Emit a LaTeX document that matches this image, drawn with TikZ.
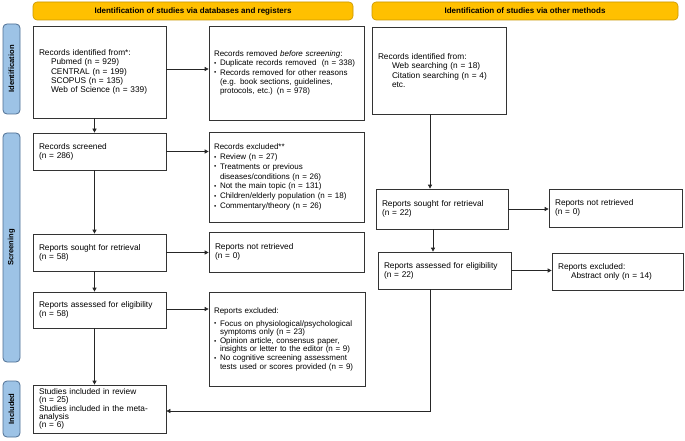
\documentclass[tikz,border=0pt]{standalone}
\usepackage{fontspec}
\setmainfont{Liberation Sans}
\usetikzlibrary{arrows.meta}
\definecolor{prismagold}{HTML}{FFC000}
\definecolor{prismaedge}{HTML}{C89600}
\definecolor{phaseblue}{HTML}{9DC3E6}
\definecolor{phaseedge}{HTML}{4F6F93}
\newcommand{\bul}{\makebox[6pt][l]{\raisebox{0.3pt}{\scalebox{0.8}{\textbullet}}}}
\newcommand{\bhang}{\hspace*{6pt}}
\newcommand{\srcind}{\hspace*{12pt}}
\begin{document}
\begin{tikzpicture}[x=1pt,y=-1pt,
    box/.style={draw=black!80, line width=0.7pt, text width=#1, align=left,
      inner xsep=6pt, inner ysep=2pt, font=\fontsize{8.3}{9.2}\selectfont},
    listbox/.style={box=#1, inner xsep=5pt},
    header/.style={draw=prismaedge, fill=prismagold, rounded corners=4pt,
      line width=0.6pt, inner sep=0pt, minimum height=18pt,
      font=\bfseries\fontsize{8}{9}\selectfont},
    phase/.style={draw=phaseedge, fill=phaseblue, rounded corners=4pt,
      line width=0.8pt, rotate=90, inner sep=0pt, minimum height=17pt,
      font=\bfseries\fontsize{7.6}{8}\selectfont},
    arr/.style={-{Triangle[length=4pt,width=4pt]}, line width=0.7pt, draw=black!85}]
  \useasboundingbox (0,0) rectangle (685,441);
  % headers
  \node[header, minimum width=320pt] (hdb) at (193,11) {Identification of studies via databases and registers};
  \node[header, minimum width=306pt] (hoth) at (525,11) {Identification of studies via other methods};
  % phases
  \node[phase, minimum width=90pt] (pid) at (11.5,69) {Identification};
  \node[phase, minimum width=229pt] (pscr) at (11.5,247.5) {Screening};
  \node[phase, minimum width=56pt] (pinc) at (11.5,409) {Included};
  % databases and registers
  \node[box=121pt, minimum height=92pt] (ident) at (99.5,72) {Records identified from*:\\
    \srcind Pubmed (n = 929)\\
    \srcind CENTRAL (n = 199)\\
    \srcind SCOPUS (n = 135)\\
    \srcind Web of Science (n = 339)};
  \node[listbox=145pt, minimum height=94pt, font=\fontsize{8}{9.2}\selectfont] (removed) at (286.5,73) {Records removed \textit{before screening}:\\
    \bul Duplicate records removed\ \ (n = 338)\\
    \bul Records removed for other reasons\\
    \bhang(e.g. book sections, guidelines,\\
    \bhang protocols, etc.) (n = 978)};
  \node[box=121pt, minimum height=37pt] (screened) at (99.5,151.5) {Records screened\\(n = 286)};
  \node[listbox=145pt, minimum height=90pt, font=\fontsize{8}{9.8}\selectfont] (excl) at (286.5,177) {Records excluded**\\
    \bul Review (n = 27)\\
    \bul Treatments or previous\\
    \bhang diseases/conditions (n = 26)\\
    \bul Not the main topic (n = 131)\\
    \bul Children/elderly population (n = 18)\\
    \bul Commentary/theory (n = 26)};
  \node[box=121pt, minimum height=37pt] (sought) at (99.5,252.5) {Reports sought for retrieval\\(n = 58)};
  \node[box=143pt, minimum height=40pt] (notret) at (286.5,252) {Reports not retrieved\\(n = 0)};
  \node[box=121pt, minimum height=36pt] (assess) at (99.5,310) {Reports assessed for eligibility\\(n = 58)};
  \node[listbox=146pt, minimum height=94pt, font=\fontsize{8}{8.6}\selectfont] (repexcl) at (287,339) {Reports excluded:\\[4.5pt]
    \bul Focus on physiological/psychological\\
    \bhang symptoms only (n = 23)\\
    \bul Opinion article, consensus paper,\\
    \bhang insights or letter to the editor (n = 9)\\
    \bul No cognitive screening assessment\\
    \bhang tests used or scores provided (n = 9)};
  \node[box=121pt, minimum height=48pt, font=\fontsize{8.3}{8.2}\selectfont] (incl) at (99.5,409) {Studies included in review\\
    (n = 25)\\
    Studies included in the meta-\\
    analysis\\
    (n = 6)};
  % other methods
  \node[box=122pt, minimum height=87pt] (oident) at (439,70.5) {Records identified from:\\
    \hspace*{14pt}Web searching (n = 18)\\
    \hspace*{14pt}Citation searching (n = 4)\\
    \hspace*{14pt}etc.};
  \node[box=120pt, minimum height=40pt] (sought2) at (442,209) {Reports sought for retrieval\\(n = 22)};
  \node[box=121pt, minimum height=38pt] (notret2) at (615.5,208) {Reports not retrieved\\(n = 0)};
  \node[box=121pt, minimum height=37pt] (assess2) at (444.5,270.5) {Reports assessed for eligibility\\(n = 22)};
  \node[box=119pt, minimum height=37pt] (repexcl2) at (617.5,271.5) {Reports excluded:\\
    \hspace*{13pt}Abstract only (n = 14)};
  % connectors
  \draw[arr] ([yshift=3pt]ident.east) -- ([yshift=3pt]ident.east -| removed.west);
  \draw[arr] ([xshift=-5pt]ident.south) -- ([xshift=-5pt]ident.south |- screened.north);
  \draw[arr] (screened.east) -- (screened.east -| excl.west);
  \draw[arr] ([xshift=-5pt]screened.south) -- ([xshift=-5pt]screened.south |- sought.north);
  \draw[arr] (sought.east) -- (sought.east -| notret.west);
  \draw[arr] ([xshift=-5pt]sought.south) -- ([xshift=-5pt]sought.south |- assess.north);
  \draw[arr] ([yshift=1pt]assess.east) -- ([yshift=1pt]assess.east -| repexcl.west);
  \draw[arr] ([xshift=-5pt]assess.south) -- ([xshift=-5pt]assess.south |- incl.north);
  \draw[arr] ([xshift=-9pt]oident.south) -- ([xshift=-9pt]oident.south |- sought2.north);
  \draw[arr] (sought2.east) -- (sought2.east -| notret2.west);
  \draw[arr] ([xshift=-9pt]sought2.south) -- ([xshift=-9pt]sought2.south |- assess2.north);
  \draw[arr] (assess2.east) -- (assess2.east -| repexcl2.west);
  \draw[arr] ([xshift=-14.5pt]assess2.south) |- ([yshift=-2pt]incl.east);
\end{tikzpicture}
\end{document}
